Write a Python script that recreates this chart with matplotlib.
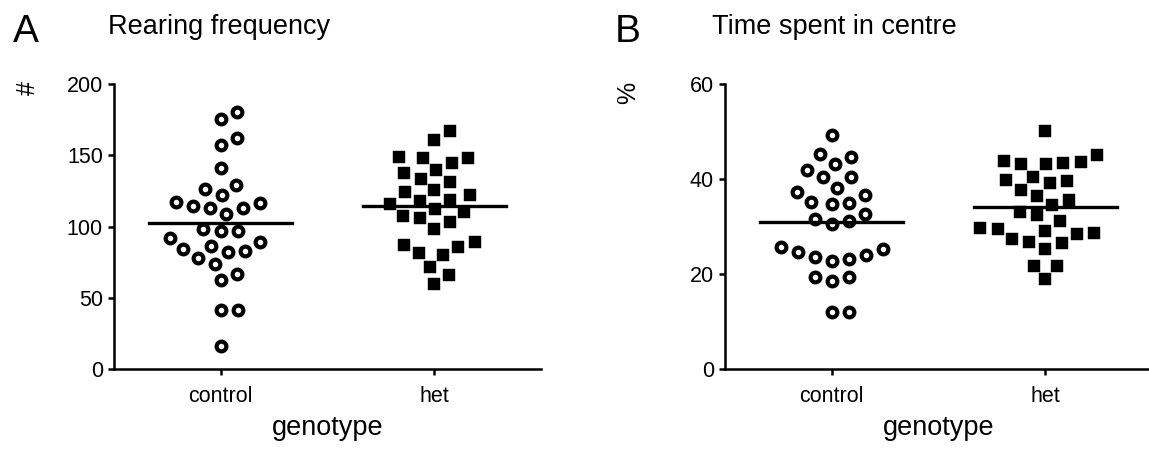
import matplotlib
matplotlib.use('Agg')
import matplotlib.pyplot as plt
import numpy as np

plt.rcParams['font.family'] = ['Liberation Sans', 'DejaVu Sans']

categories = ['control', 'het']

# Rearing frequency (#)
rearing_control = [180.7, 175.4, 157.3, 161.9, 141.0, 128.9, 122.4, 126.1, 117.3, 114.5,
                   113.1, 108.7, 113.1, 116.2, 97.1, 97.1, 98.0, 89.0, 92.2, 84.1,
                   82.0, 77.8, 82.9, 86.6, 73.7, 62.2, 66.7, 41.3, 41.3, 16.2]
rearing_het = [166.8, 161.0, 147.9, 144.5, 147.9, 149.1, 139.4, 137.5, 133.1, 131.2,
               124.3, 125.4, 118.5, 122.0, 115.5, 118.0, 110.3, 112.2, 105.7, 102.9,
               107.3, 98.3, 87.1, 81.3, 80.1, 85.5, 89.0, 71.6, 66.2, 59.7]

# Time spent in centre (%)
centre_control = [49.3, 44.7, 45.3, 43.2, 40.5, 40.4, 42.0, 37.2, 35.1, 34.7,
                  35.0, 36.6, 38.2, 32.6, 31.2, 30.5, 31.5, 25.7, 24.7, 23.5,
                  22.8, 23.2, 24.0, 25.3, 19.3, 18.6, 19.3, 11.9, 11.9]
centre_het = [50.1, 45.1, 43.6, 43.1, 43.1, 43.3, 43.8, 40.5, 39.6, 39.1,
              39.8, 37.7, 36.5, 35.6, 34.5, 33.0, 32.4, 31.2, 29.6, 29.1,
              29.5, 28.6, 27.4, 26.6, 28.4, 26.8, 25.3, 21.7, 21.7, 18.9]


def swarm_x(ax, values, center, spacing_px):
    # simple beeswarm: place points bottom-up, as close to centre as possible
    pts = ax.transData.transform(np.column_stack([np.full(len(values), center), values]))
    ys = pts[:, 1]
    offs = np.zeros(len(values))
    placed = []
    for i in np.argsort(ys, kind='stable'):
        y = ys[i]
        cands = [0.0]
        for px, py in placed:
            dy = y - py
            if abs(dy) < spacing_px:
                dx = np.sqrt(spacing_px**2 - dy**2)
                cands += [px + dx, px - dx]
        cands.sort(key=abs)
        for c in cands:
            if all((c - px)**2 + (y - py)**2 >= spacing_px**2 - 1e-6 for px, py in placed):
                offs[i] = c
                break
        placed.append((offs[i], y))
    x0 = ax.transData.transform((center, 0))[0]
    x1 = ax.transData.transform((center + 1, 0))[0]
    return center + offs / (x1 - x0)


fig = plt.figure(figsize=(11.49, 4.5), dpi=100)
W, H = 1149, 450


def panel(left_px, ymax, yticks, ctrl, het, letter, title, ylab, letter_x, title_x, ylab_x, ylab_y):
    ax = fig.add_axes([left_px / W, 81 / H, 427 / W, 285 / H])
    ax.set_xlim(-0.5, 1.5)
    ax.set_ylim(0, ymax)
    for s in ['top', 'right']:
        ax.spines[s].set_visible(False)
    for s in ['left', 'bottom']:
        ax.spines[s].set_linewidth(1.8)
    ax.set_yticks(yticks)
    ax.set_xticks([0, 1])
    ax.set_xticklabels(categories)
    ax.tick_params(axis='both', direction='out', length=4, width=1.8, labelsize=15.5, pad=4)
    ax.tick_params(axis='x', pad=8)
    ax.set_xlabel('genotype', fontsize=19.5, labelpad=6)

    xs = swarm_x(ax, ctrl, 0, 17.5)
    ax.plot(xs, ctrl, 'o', ms=7.0, mfc='white', mec='black', mew=3.0, clip_on=False, zorder=3)
    xs = swarm_x(ax, het, 1, 17.5)
    ax.plot(xs, het, 's', ms=8.2, mfc='black', mec='black', mew=0.3, clip_on=False, zorder=3)

    for i, vals in enumerate([ctrl, het]):
        m = np.mean(vals)
        ax.plot([i - 0.335, i + 0.335], [m, m], color='black', lw=2.4, zorder=4)

    fig.text(letter_x / W, 1 - 42 / H, letter, fontsize=28, va='baseline', ha='left')
    fig.text(title_x / W, 1 - 34 / H, title, fontsize=19.5, va='baseline', ha='left')
    fig.text(ylab_x / W, 1 - ylab_y / H, ylab, fontsize=18, rotation=90, ha='center', va='center')
    return ax


panel(114, 200, [0, 50, 100, 150, 200], rearing_control, rearing_het,
      'A', 'Rearing frequency', '#', 13, 108, 28, 88)
panel(725, 60, [0, 20, 40, 60], centre_control, centre_het,
      'B', 'Time spent in centre', '%', 615, 712, 628, 93)

fig.savefig('out.png', dpi=100)
